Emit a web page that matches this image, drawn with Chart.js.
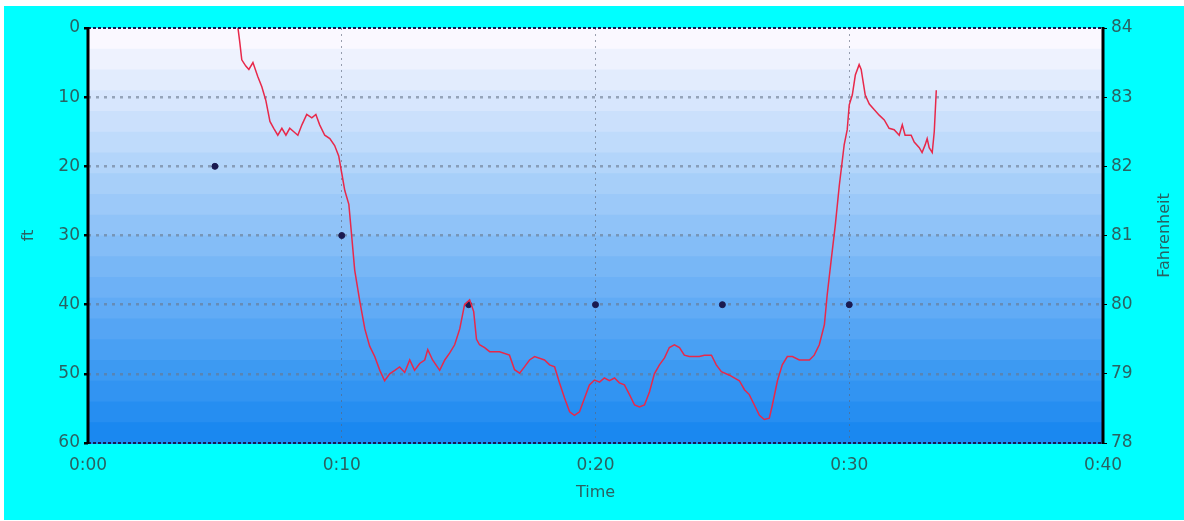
<!DOCTYPE html>
<html lang="en">
<head>
  <meta charset="UTF-8" />
  <title>Dive profile</title>
  <script src="https://cdn.jsdelivr.net/npm/chart.js"></script>
  <style>
    body {
      margin: 0;
      background: #ffffff;
      font-family: 'DejaVu Sans', sans-serif;
    }
    .panel {
      position: absolute;
      left: 4px;
      top: 6px;
      width: 1180px;
      height: 514px;
      background: #00ffff;
    }
  </style>
</head>
<body>
  <div class="panel">
    <canvas id="diveChart"></canvas>
  </div>

  <script>
    // depth profile: time in minutes, depth in ft
    const depthTime = [
      5.91, 5.98, 6.06, 6.22, 6.34, 6.50, 6.69, 6.85, 7.01, 7.17, 7.32, 7.48, 7.64, 7.80, 7.95,
      8.11, 8.27, 8.43, 8.62, 8.82, 8.98, 9.13, 9.33, 9.53, 9.72, 9.88, 10.00, 10.12, 10.28, 10.39,
      10.51, 10.71, 10.91, 11.10, 11.30, 11.50, 11.69, 11.89, 12.09, 12.28, 12.48, 12.68, 12.87,
      13.07, 13.27, 13.39, 13.58, 13.86, 14.06, 14.25, 14.45, 14.65, 14.84, 15.04, 15.20, 15.31,
      15.43, 15.63, 15.83, 16.22, 16.61, 16.81, 17.01, 17.20, 17.40, 17.60, 17.99, 18.19, 18.39,
      18.58, 18.78, 18.98, 19.17, 19.37, 19.57, 19.76, 19.96, 20.16, 20.35, 20.55, 20.75, 20.94,
      21.14, 21.34, 21.54, 21.73, 21.93, 22.13, 22.32, 22.52, 22.72, 22.91, 23.11, 23.31, 23.50,
      23.70, 24.09, 24.29, 24.57, 24.76, 24.96, 25.28, 25.67, 25.87, 26.06, 26.26, 26.46, 26.65,
      26.85, 26.97, 27.17, 27.36, 27.56, 27.76, 28.03, 28.43, 28.62, 28.82, 29.02, 29.13, 29.29,
      29.45, 29.61, 29.80, 29.92, 30.00, 30.12, 30.24, 30.39, 30.47, 30.63, 30.79, 30.98, 31.18,
      31.38, 31.57, 31.77, 31.97, 32.09, 32.20, 32.44, 32.56, 32.76, 32.87, 32.99, 33.07, 33.15,
      33.27, 33.35, 33.39, 33.43
    ];
    const depthFt = [
      0, 2, 4.6, 5.5, 6, 5, 7, 8.5, 10.5, 13.5, 14.5, 15.5, 14.5, 15.5, 14.5,
      15, 15.5, 14, 12.5, 13, 12.5, 14, 15.5, 16, 17, 18.5, 21, 23.5, 25.5, 30,
      35, 39.5, 43.5, 46, 47.5, 49.5, 51, 50, 49.5, 49, 49.8, 48, 49.5,
      48.5, 48, 46.5, 48, 49.5, 48, 47, 45.8, 43.5, 40, 39.3, 41, 45,
      45.8, 46.2, 46.8, 46.8, 47.3, 49.4, 49.9, 49, 48, 47.5, 48, 48.7, 49,
      51.3, 53.5, 55.5, 56, 55.5, 53.5, 51.6, 50.9, 51.2, 50.6, 51, 50.6, 51.3,
      51.6, 53, 54.5, 54.8, 54.5, 52.6, 50, 48.7, 47.7, 46.2, 45.8, 46.2, 47.3,
      47.5, 47.5, 47.3, 47.3, 48.7, 49.7, 50.2, 51, 52.3, 53, 54.5, 56, 56.6,
      56.4, 54.5, 51, 48.7, 47.5, 47.5, 48, 48, 47.3, 45.8, 42.9, 38.6, 33.5,
      28.5, 22.7, 16.9, 14.7, 11.1, 9.7, 6.8, 5.3, 6, 9.7, 11, 11.8, 12.6,
      13.3, 14.5, 14.7, 15.5, 14, 15.5, 15.5, 16.5, 17.3, 18, 16.9, 16, 17.3,
      18, 15, 12, 9
    ];

    // water temperature samples
    const tempTime = [5, 10, 15, 20, 25, 30];
    const tempF = [82, 81, 80, 80, 80, 80];

    const xTickLabels = ['0:00', '0:10', '0:20', '0:30', '0:40'];
    const depthTicks = [0, 10, 20, 30, 40, 50, 60];
    const tempTicks = [78, 79, 80, 81, 82, 83, 84];

    Chart.defaults.font.family = "'DejaVu Sans', sans-serif";
    Chart.defaults.font.size = 17;
    Chart.defaults.color = '#2a6262';

    // banded white-to-blue fill behind the plot
    const bandedBackground = {
      id: 'bandedBackground',
      beforeDraw(chart) {
        const { ctx, chartArea: a } = chart;
        const bands = 20;
        const top = [250, 248, 255];
        const bottom = [26, 136, 240];
        const h = (a.bottom - a.top) / bands;
        ctx.save();
        for (let i = 0; i < bands; i++) {
          const t = i / (bands - 1);
          const c = top.map((v, k) => Math.round(v + (bottom[k] - v) * t));
          ctx.fillStyle = `rgb(${c[0]},${c[1]},${c[2]})`;
          ctx.fillRect(a.left, a.top + i * h, a.right - a.left, h + 1);
        }
        ctx.restore();
      }
    };

    // frame and axis titles
    const frameAndTitles = {
      id: 'frameAndTitles',
      afterDraw(chart) {
        const { ctx, chartArea: a } = chart;
        ctx.save();
        ctx.strokeStyle = '#1a1a50';
        ctx.lineWidth = 2;
        ctx.setLineDash([3, 2]);
        ctx.beginPath();
        ctx.moveTo(a.left, a.top); ctx.lineTo(a.right, a.top);
        ctx.moveTo(a.left, a.bottom); ctx.lineTo(a.right, a.bottom);
        ctx.stroke();
        ctx.setLineDash([]);
        ctx.strokeStyle = '#000000';
        ctx.lineWidth = 3;
        ctx.beginPath();
        ctx.moveTo(a.left, a.top - 1); ctx.lineTo(a.left, a.bottom + 1);
        ctx.moveTo(a.right, a.top - 1); ctx.lineTo(a.right, a.bottom + 1);
        ctx.stroke();

        ctx.fillStyle = '#2a6262';
        ctx.font = "16px 'DejaVu Sans', sans-serif";
        ctx.textAlign = 'center';
        ctx.textBaseline = 'middle';
        ctx.fillText('Time', (a.left + a.right) / 2, 487);
        ctx.translate(25, (a.top + a.bottom) / 2);
        ctx.rotate(-Math.PI / 2);
        ctx.fillText('ft', 0, 0);
        ctx.rotate(Math.PI / 2);
        ctx.translate(1161 - 25, 0);
        ctx.rotate(-Math.PI / 2);
        ctx.fillText('Fahrenheit', 0, 0);
        ctx.restore();
      }
    };

    const ctx = document.getElementById('diveChart').getContext('2d');
    new Chart(ctx, {
      type: 'line',
      data: {
        datasets: [
          {
            label: 'Depth',
            data: depthTime.map((t, i) => ({ x: t, y: depthFt[i] })),
            yAxisID: 'y',
            borderColor: '#e8284a',
            borderWidth: 1.5,
            pointRadius: 0,
            tension: 0,
            fill: false
          },
          {
            label: 'Temperature',
            data: tempTime.map((t, i) => ({ x: t, y: tempF[i] })),
            yAxisID: 'y1',
            showLine: false,
            pointRadius: 3,
            pointBackgroundColor: '#1a1a50',
            pointBorderColor: '#1a1a50'
          }
        ]
      },
      options: {
        responsive: true,
        maintainAspectRatio: false,
        animation: false,
        layout: { padding: { top: 22, left: 0, right: 0, bottom: 0 } },
        plugins: {
          legend: { display: false },
          tooltip: { enabled: false }
        },
        scales: {
          x: {
            type: 'linear',
            min: 0,
            max: 40,
            afterBuildTicks: (s) => { s.ticks = xTickLabels.map((_, i) => ({ value: i * 10 })); },
            afterFit: (s) => { s.height = 77; },
            ticks: {
              padding: 12,
              maxRotation: 0,
              callback: (v, i) => xTickLabels[i]
            },
            grid: {
              drawTicks: false,
              color: (c) => (c.tick && c.tick.value > 0 && c.tick.value < 40) ? 'rgba(90,100,120,0.6)' : 'transparent',
              lineWidth: 1
            },
            border: { display: false, dash: [2, 4] }
          },
          y: {
            position: 'left',
            reverse: true,
            min: 0,
            max: 60,
            afterBuildTicks: (s) => { s.ticks = depthTicks.map((v) => ({ value: v })); },
            afterFit: (s) => { s.width = 84; },
            ticks: { padding: 4 },
            grid: {
              tickLength: 4,
              tickColor: '#000000',
              color: (c) => (c.tick && c.tick.value > 0 && c.tick.value < 60) ? 'rgba(105,120,140,0.6)' : 'transparent',
              lineWidth: 2.5
            },
            border: { display: false, dash: [3, 5] }
          },
          y1: {
            position: 'right',
            min: 78,
            max: 84,
            afterBuildTicks: (s) => { s.ticks = tempTicks.map((v) => ({ value: v })); },
            afterFit: (s) => { s.width = 81; },
            ticks: { padding: 4 },
            grid: { drawOnChartArea: false, tickLength: 4, tickColor: '#000000' },
            border: { display: false }
          }
        }
      },
      plugins: [bandedBackground, frameAndTitles]
    });
  </script>
</body>
</html>
